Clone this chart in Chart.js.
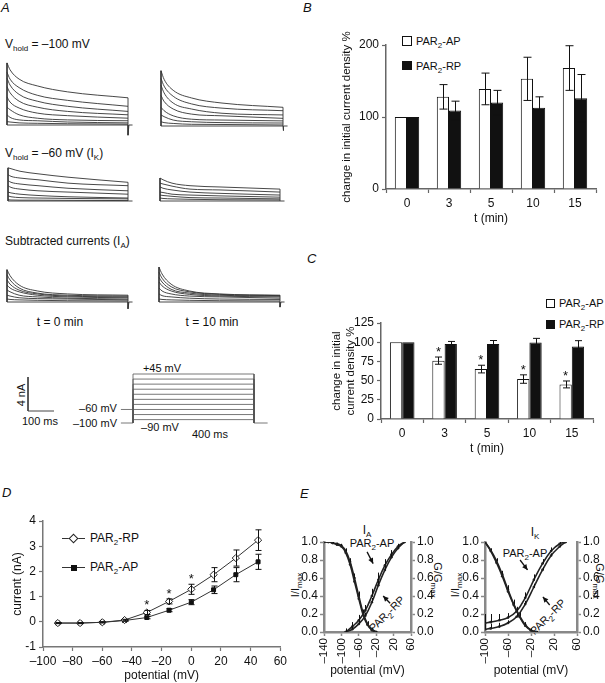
<!DOCTYPE html>
<html>
<head>
<meta charset="utf-8">
<script src="https://cdn.jsdelivr.net/npm/chart.js@4.4.1/dist/chart.umd.min.js"></script>
<style>
body { margin: 0; background: #fff; }
#fig { position: relative; width: 605px; height: 683px; overflow: hidden; font-family: 'Liberation Sans', Arial, sans-serif; color: #111; }
#fig canvas { position: absolute; }
.t { position: absolute; white-space: nowrap; font-size: 11px; line-height: 1; }
.c { transform: translate(-50%, -50%); }
.lt { font-style: italic; font-size: 13px; }
.big { font-size: 12px; }
sub { font-size: 8px; vertical-align: -3px; line-height: 0; }
.box { position: absolute; box-sizing: border-box; }
</style>
</head>
<body>
<div id="fig">
  <!-- panel letters -->
  <div class="t lt" style="left:1px;top:1px">A</div>
  <div class="t lt" style="left:303px;top:1px">B</div>
  <div class="t lt" style="left:307px;top:252px">C</div>
  <div class="t lt" style="left:2px;top:486px">D</div>
  <div class="t lt" style="left:300px;top:487px">E</div>

  <!-- panel A text -->
  <div class="t big" style="left:5px;top:38px">V<sub>hold</sub> = –100 mV</div>
  <div class="t big" style="left:5px;top:147px">V<sub>hold</sub> = –60 mV (I<sub>K</sub>)</div>
  <div class="t big" style="left:5px;top:235px">Subtracted currents (I<sub>A</sub>)</div>
  <div class="t big c" style="left:60px;top:322px">t = 0 min</div>
  <div class="t big c" style="left:212px;top:322px">t = 10 min</div>
  <div class="t c" style="left:21px;top:395px;transform:translate(-50%,-50%) rotate(-90deg)">4 nA</div>
  <div class="t c" style="left:40px;top:421px">100 ms</div>
  <div class="t c" style="left:162px;top:368px">+45 mV</div>
  <div class="t c" style="left:98px;top:408px">–60 mV</div>
  <div class="t c" style="left:95px;top:423px">–100 mV</div>
  <div class="t c" style="left:160px;top:427px">–90 mV</div>
  <div class="t c" style="left:210px;top:434px">400 ms</div>

  <!-- B legend -->
  <div class="box" style="left:402px;top:36px;width:10px;height:10px;border:1px solid #111;background:#fff"></div>
  <div class="t" style="left:416px;top:36px">PAR<sub>2</sub>-AP</div>
  <div class="box" style="left:402px;top:61px;width:10px;height:9px;background:#111"></div>
  <div class="t" style="left:416px;top:61px">PAR<sub>2</sub>-RP</div>

  <!-- C legend -->
  <div class="box" style="left:546px;top:299px;width:9px;height:9px;border:1px solid #111;background:#fff"></div>
  <div class="t" style="left:559px;top:298px">PAR<sub>2</sub>-AP</div>
  <div class="box" style="left:546px;top:320px;width:9px;height:9px;background:#111"></div>
  <div class="t" style="left:559px;top:319px">PAR<sub>2</sub>-RP</div>

  <!-- D legend -->
  <div class="box" style="left:62px;top:538px;width:23px;height:1px;background:#333"></div>
  <div class="box" style="left:70px;top:535px;width:7px;height:7px;border:1px solid #222;background:#fff;transform:rotate(45deg)"></div>
  <div class="t big" style="left:90px;top:532px">PAR<sub>2</sub>-RP</div>
  <div class="box" style="left:62px;top:567px;width:23px;height:1px;background:#333"></div>
  <div class="box" style="left:71px;top:565px;width:6px;height:6px;background:#111"></div>
  <div class="t big" style="left:90px;top:561px">PAR<sub>2</sub>-AP</div>

  <!-- E labels -->
  <div class="t big c" style="left:367px;top:530px">I<sub>A</sub></div>
  <div class="t big c" style="left:535px;top:532px">I<sub>K</sub></div>
  <div class="t c" style="left:372px;top:543px">PAR<sub>2</sub>-AP</div>
  <div class="t c" style="left:525px;top:553px">PAR<sub>2</sub>-AP</div>
  <div class="t c" style="left:387px;top:614px;transform:translate(-50%,-50%) rotate(-45deg)">PAR<sub>2</sub>-RP</div>
  <div class="t c" style="left:548px;top:617px;transform:translate(-50%,-50%) rotate(-45deg)">PAR<sub>2</sub>-RP</div>
  <div class="t c" style="left:295px;top:585px;transform:translate(-50%,-50%) rotate(-90deg)">I/I<sub>max</sub></div>
  <div class="t c" style="left:455px;top:585px;transform:translate(-50%,-50%) rotate(-90deg)">I/I<sub>max</sub></div>
  <div class="t c" style="left:437px;top:580px;transform:translate(-50%,-50%) rotate(90deg)">G/G<sub>max</sub></div>
  <div class="t c" style="left:599px;top:581px;transform:translate(-50%,-50%) rotate(90deg)">G/G<sub>max</sub></div>
</div>

<script>
// ---- Panel A: current traces (nA) sampled at these times (ms) into the 400 ms step
const traceTimes = [0, 10, 40, 100, 200, 400];
const stepMs = 400;

const tracesHold100T0 = [
    [7.3, 6.5, 5.4, 4.6, 3.9, 3.2],
    [6.2, 5.4, 4.4, 3.5, 2.9, 2.2],
    [5.5, 4.7, 3.6, 2.8, 2.2, 1.6],
    [4.5, 3.8, 2.8, 2.1, 1.6, 1.2],
    [3.3, 2.7, 2.0, 1.4, 1.1, 0.8],
    [2.1, 1.8, 1.2, 0.8, 0.6, 0.5],
    [1.2, 0.9, 0.6, 0.5, 0.35, 0.25],
    [0.4, 0.35, 0.25, 0.2, 0.15, 0.1]
];
const tracesHold100T10 = [
    [6.5, 5.5, 4.2, 3.3, 2.7, 2.2],
    [5.6, 4.7, 3.5, 2.6, 2.1, 1.8],
    [4.8, 3.9, 2.7, 2.0, 1.5, 1.3],
    [3.6, 2.9, 2.0, 1.4, 1.2, 0.9],
    [2.2, 1.8, 1.2, 0.8, 0.7, 0.6],
    [1.3, 1.1, 0.7, 0.5, 0.4, 0.35],
    [0.5, 0.4, 0.3, 0.2, 0.18, 0.12]
];
const tracesHold60T0 = [
    [3.9, 3.8, 3.5, 3.2, 2.8, 2.2],
    [3.1, 2.9, 2.7, 2.5, 2.1, 1.8],
    [2.4, 2.2, 2.0, 1.8, 1.5, 1.2],
    [1.8, 1.6, 1.4, 1.2, 1.05, 0.8],
    [1.05, 0.95, 0.8, 0.65, 0.5, 0.35],
    [0.6, 0.5, 0.4, 0.35, 0.3, 0.25],
    [0.15, 0.12, 0.1, 0.1, 0.08, 0.05]
];
const tracesHold60T10 = [
    [2.7, 2.5, 2.1, 1.8, 1.65, 1.4],
    [2.1, 2.0, 1.75, 1.4, 1.3, 1.05],
    [1.65, 1.5, 1.3, 1.05, 0.9, 0.7],
    [1.05, 1.0, 0.8, 0.7, 0.6, 0.45],
    [0.7, 0.65, 0.55, 0.4, 0.35, 0.25],
    [0.35, 0.3, 0.25, 0.2, 0.15, 0.12]
];
const tracesSubT0 = [
    [3.8, 3.1, 2.0, 1.3, 0.95, 0.8],
    [3.2, 2.6, 1.65, 1.05, 0.8, 0.7],
    [2.6, 2.1, 1.4, 0.95, 0.7, 0.6],
    [2.0, 1.65, 1.2, 0.8, 0.6, 0.5],
    [1.4, 1.2, 0.8, 0.6, 0.45, 0.35],
    [0.8, 0.7, 0.5, 0.4, 0.35, 0.25],
    [0.35, 0.3, 0.25, 0.2, 0.15, 0.12]
];
const tracesSubT10 = [
    [4.1, 3.3, 2.1, 1.3, 0.95, 0.8],
    [3.5, 2.8, 1.8, 1.2, 0.9, 0.75],
    [2.9, 2.35, 1.5, 1.05, 0.8, 0.7],
    [2.35, 1.9, 1.3, 0.9, 0.7, 0.6],
    [1.65, 1.3, 0.95, 0.7, 0.6, 0.45],
    [0.95, 0.75, 0.6, 0.45, 0.35, 0.3],
    [0.35, 0.3, 0.25, 0.2, 0.15, 0.12]
];
// tail current at the end of the step (nA)
const tailHold100 = [-1.2, -0.55];
const tailSub = [-0.8, -0.6];

// voltage protocol (mV)
const stepLevels = [-90, -75, -60, -45, -30, -15, 0, 15, 30, 45];
const holdLevel = -100;
const holdK = -60;
const scaleBarNa = 4;
const scaleBarMs = 100;

// ---- Panel B
const minutes = ['0', '3', '5', '10', '15'];
const bAP = [100, 128, 139, 153, 168];
const bAPerr = [0, 17, 22, 30, 31];
const bRP = [100, 109, 120, 113, 126];
const bRPerr = [0, 13, 17, 15, 33];

// ---- Panel C
const cAP = [100, 76, 65, 52, 45];
const cAPerr = [0, 4.7, 5, 5.5, 4.5];
const cRP = [100, 97.5, 97.5, 99.5, 94.5];
const cRPerr = [0, 3.5, 4.7, 5.5, 7.5];
const cStars = [1, 2, 3, 4];

// ---- Panel D
const dV = [-90, -75, -60, -45, -30, -15, 0, 15, 30, 45];
const dRP = [-0.05, -0.05, -0.02, 0.07, 0.37, 0.81, 1.29, 1.87, 2.53, 3.24];
const dRPerr = [0.02, 0.02, 0.02, 0.03, 0.08, 0.1, 0.2, 0.28, 0.32, 0.41];
const dAP = [-0.05, -0.05, -0.02, 0.05, 0.17, 0.46, 0.78, 1.27, 1.87, 2.38];
const dAPerr = [0.02, 0.02, 0.02, 0.03, 0.05, 0.06, 0.1, 0.15, 0.28, 0.3];
const dStars = [4, 5, 6];

// ---- Panel E (I_A)
const iaInactV = [-140, -130, -120, -110, -100, -90, -80, -70, -60, -50, -40, -30, -20];
const iaInactAP = [1.0, 1.0, 0.99, 0.98, 0.96, 0.9, 0.78, 0.6, 0.4, 0.21, 0.09, 0.03, 0.0];
const iaInactRP = [1.0, 1.0, 0.99, 0.97, 0.95, 0.88, 0.75, 0.56, 0.37, 0.19, 0.08, 0.02, 0.0];
const iaInactErr = [0, 0, 0.01, 0.01, 0.02, 0.03, 0.04, 0.05, 0.05, 0.04, 0.03, 0.02, 0.01];
const iaActV = [-90, -75, -60, -45, -30, -15, 0, 15, 30, 45];
const iaActAP = [0.0, 0.06, 0.13, 0.24, 0.4, 0.58, 0.74, 0.86, 0.95, 1.0];
const iaActRP = [0.0, 0.03, 0.09, 0.18, 0.33, 0.52, 0.69, 0.83, 0.93, 1.0];
const iaActErr = [0.04, 0.05, 0.06, 0.06, 0.08, 0.08, 0.07, 0.05, 0.03, 0];
const iaArrows = [[-41, 0.89, -27, 0.76], [12, 0.32, -4, 0.4]];

// ---- Panel E (I_K)
const ikInactV = [-100, -90, -80, -70, -60, -50, -40, -30, -20, -10];
const ikInactAP = [1.0, 0.91, 0.79, 0.64, 0.47, 0.31, 0.18, 0.08, 0.02, 0.0];
const ikInactRP = [1.0, 0.9, 0.77, 0.62, 0.45, 0.3, 0.17, 0.07, 0.02, 0.0];
const ikInactErr = [0, 0.02, 0.03, 0.04, 0.05, 0.05, 0.04, 0.03, 0.02, 0.01];
const ikActV = [-100, -90, -75, -60, -45, -30, -15, 0, 15, 30, 40];
const ikActAP = [0.1, 0.11, 0.13, 0.16, 0.23, 0.38, 0.58, 0.76, 0.9, 0.98, 1.0];
const ikActRP = [0.03, 0.04, 0.06, 0.1, 0.17, 0.31, 0.5, 0.69, 0.85, 0.95, 1.0];
const ikActErr = [0.1, 0.09, 0.07, 0.05, 0.05, 0.06, 0.06, 0.05, 0.04, 0.02, 0];
const ikArrows = [[-39, 0.8, -26, 0.69], [12.5, 0.3, 0.7, 0.39]];

// ---------------------------------------------------------------
Chart.defaults.font.family = "'Liberation Sans', Arial, sans-serif";
Chart.defaults.font.size = 11;
Chart.defaults.color = '#111';
Chart.defaults.plugins.legend.display = false;
Chart.defaults.plugins.tooltip.enabled = false;

const dash = v => v < 0 ? '\u2013' + Math.abs(v) : String(v);

// error bars (and significance stars) read from dataset.errors
const errorBars = {
    id: 'errorBars',
    afterDatasetsDraw(chart) {
        const ctx = chart.ctx;
        chart.data.datasets.forEach((ds, i) => {
            if (!ds.errors) return;
            const meta = chart.getDatasetMeta(i);
            const ys = chart.scales[meta.yAxisID];
            ctx.save();
            ctx.strokeStyle = '#111';
            ctx.lineWidth = 1;
            meta.data.forEach((el, j) => {
                const e = ds.errors[j];
                const raw = ds.data[j];
                const v = typeof raw === 'object' ? raw.y : raw;
                const top = ys.getPixelForValue(v + e);
                if (e) {
                    const bot = ds.errUp ? el.y : ys.getPixelForValue(v - e);
                    const c = ds.errCap || 0;
                    const x = Math.round(el.x) + 0.5;
                    ctx.beginPath();
                    ctx.moveTo(x, top); ctx.lineTo(x, bot);
                    if (c) {
                        ctx.moveTo(x - c, top); ctx.lineTo(x + c, top);
                        if (!ds.errUp) { ctx.moveTo(x - c, bot); ctx.lineTo(x + c, bot); }
                    }
                    ctx.stroke();
                }
                if (ds.stars && ds.stars.includes(j)) {
                    ctx.fillStyle = '#111';
                    ctx.font = "13px 'Liberation Sans', Arial";
                    ctx.textAlign = 'center';
                    ctx.textBaseline = 'alphabetic';
                    ctx.fillText('*', el.x, top - 1);
                }
            });
            ctx.restore();
        });
    }
};
Chart.register(errorBars);

function arrowPlugin(list) {
    return {
        id: 'arrows',
        afterDraw(chart) {
            const { ctx, scales: { x, y } } = chart;
            ctx.save();
            ctx.strokeStyle = '#111';
            ctx.fillStyle = '#111';
            ctx.lineWidth = 1.3;
            list.forEach(a => {
                const x1 = x.getPixelForValue(a[0]), y1 = y.getPixelForValue(a[1]);
                const x2 = x.getPixelForValue(a[2]), y2 = y.getPixelForValue(a[3]);
                const ang = Math.atan2(y2 - y1, x2 - x1);
                ctx.beginPath(); ctx.moveTo(x1, y1); ctx.lineTo(x2, y2); ctx.stroke();
                ctx.beginPath();
                ctx.moveTo(x2, y2);
                ctx.lineTo(x2 - 6 * Math.cos(ang - 0.45), y2 - 6 * Math.sin(ang - 0.45));
                ctx.lineTo(x2 - 6 * Math.cos(ang + 0.45), y2 - 6 * Math.sin(ang + 0.45));
                ctx.closePath(); ctx.fill();
            });
            ctx.restore();
        }
    };
}

// x tick labels standing upright (read bottom to top), taken from the scale's own ticks
const uprightTicks = {
    id: 'uprightTicks',
    afterDraw(chart) {
        const s = chart.scales.x, ctx = chart.ctx;
        ctx.save();
        ctx.fillStyle = '#111';
        ctx.font = "11.5px 'Liberation Sans', Arial";
        ctx.textAlign = 'right';
        ctx.textBaseline = 'middle';
        s.ticks.forEach(t => {
            ctx.save();
            ctx.translate(s.getPixelForValue(t.value), s.top + 6);
            ctx.rotate(-Math.PI / 2);
            ctx.fillText(dash(t.value), 0, 0);
            ctx.restore();
        });
        ctx.restore();
    }
};

function mkCanvas(left, top, w, h) {
    const c = document.createElement('canvas');
    c.width = w; c.height = h;
    c.style.left = left + 'px'; c.style.top = top + 'px';
    c.style.width = w + 'px'; c.style.height = h + 'px';
    document.getElementById('fig').appendChild(c);
    return c;
}

const base = { responsive: false, animation: false, devicePixelRatio: 1, events: [] };
const pts = (xs, ys) => xs.map((x, i) => ({ x: x, y: ys[i] }));

// hidden-axis chart where (x0, y0) is t = 0 / 0 nA, x400 the end of the step
function traceChart(box, x0, y0, x400, traces, tail) {
    const [left, top, w, h] = box;
    const k = (x400 - x0) / stepMs;
    const kA = 8.5;
    const datasets = traces.map(v => ({ data: pts(traceTimes, v), cubicInterpolationMode: 'monotone' }));
    const peak = Math.max(...traces.map(v => v[0]));
    const last = Math.max(...traces.map(v => v[v.length - 1]));
    datasets.push({ data: [{ x: 0, y: peak }, { x: 0, y: 0 }, { x: stepMs, y: 0 }, { x: stepMs, y: last }] });
    datasets.push({ data: [{ x: stepMs, y: 0 }, { x: stepMs, y: tail }, { x: stepMs + 3, y: 0 }, { x: stepMs + 15, y: 0 }] });
    new Chart(mkCanvas(left, top, w, h), {
        type: 'line',
        data: { datasets },
        options: {
            ...base,
            layout: { padding: 0 },
            elements: { point: { radius: 0 }, line: { borderWidth: 0.9, borderColor: '#333', tension: 0 } },
            datasets: { line: { clip: false } },
            scales: {
                x: { type: 'linear', display: false, min: (left - x0) / k, max: (left + w - x0) / k },
                y: { display: false, min: (y0 - top - h) / kA, max: (y0 - top) / kA }
            }
        }
    });
}

traceChart([2, 55, 140, 85], 7, 125, 128, tracesHold100T0, tailHold100[0]);
traceChart([155, 55, 140, 85], 161, 126, 283, tracesHold100T10, tailHold100[1]);
traceChart([2, 160, 140, 50], 8, 201, 128, tracesHold60T0, 0);
traceChart([155, 160, 140, 50], 160, 201, 280, tracesHold60T10, 0);
traceChart([2, 260, 140, 55], 7, 302, 128, tracesSubT0, tailSub[0]);
traceChart([155, 260, 140, 55], 159, 302, 280, tracesSubT10, tailSub[1]);

// voltage protocol
(function () {
    const left = 110, top = 365, w = 170, h = 65;
    const x0 = 133, k = 121 / stepMs;        // px per ms
    const yHold = 423, kV = 49 / 145;        // px per mV
    const datasets = stepLevels.map(L => ({
        data: [{ x: 0, y: holdLevel }, { x: 0, y: L }, { x: stepMs, y: L }, { x: stepMs, y: holdLevel }]
    }));
    datasets.push({ data: [{ x: -40, y: holdLevel }, { x: 0, y: holdLevel }] });
    datasets.push({ data: [{ x: stepMs, y: holdLevel }, { x: stepMs + 45, y: holdLevel }] });
    datasets.push({ data: [{ x: -40, y: holdK }, { x: 0, y: holdK }] });
    new Chart(mkCanvas(left, top, w, h), {
        type: 'line',
        data: { datasets },
        options: {
            ...base,
            layout: { padding: 0 },
            elements: { point: { radius: 0 }, line: { borderWidth: 0.8, borderColor: '#555', tension: 0 } },
            datasets: { line: { clip: false } },
            scales: {
                x: { type: 'linear', display: false, min: (left - x0) / k, max: (left + w - x0) / k },
                y: { display: false, min: holdLevel - (top + h - yHold) / kV, max: holdLevel + (yHold - top) / kV }
            }
        }
    });
})();

// scale bar
(function () {
    const left = 20, top = 370, w = 50, h = 45;
    const x0 = 28, y0 = 411, kT = 26 / scaleBarMs, kA = 34 / scaleBarNa;
    new Chart(mkCanvas(left, top, w, h), {
        type: 'line',
        data: { datasets: [{ data: [{ x: 0, y: scaleBarNa }, { x: 0, y: 0 }, { x: scaleBarMs, y: 0 }] }] },
        options: {
            ...base,
            layout: { padding: 0 },
            elements: { point: { radius: 0 }, line: { borderWidth: 1, borderColor: '#444', tension: 0 } },
            scales: {
                x: { type: 'linear', display: false, min: (left - x0) / kT, max: (left + w - x0) / kT },
                y: { display: false, min: (y0 - top - h) / kA, max: (y0 - top) / kA }
            }
        }
    });
})();

// ---- bar charts B and C
const axisGrey = '#666';
function barAxes(yMax, yStep, yTitle, yW, xH, yTitlePad, xTitlePad) {
    return {
        x: {
            grid: { drawOnChartArea: false, color: axisGrey, tickLength: 4, tickWidth: 1.2 },
            border: { color: axisGrey, width: 1.5 },
            ticks: { padding: 3, font: { size: 12 } },
            title: { display: true, text: 't (min)', font: { size: 12 }, padding: { top: 0, bottom: xTitlePad } },
            afterFit: s => { s.height = xH; }
        },
        y: {
            min: 0, max: yMax,
            grid: { drawOnChartArea: false, color: axisGrey, tickLength: 4, tickWidth: 1.2 },
            border: { color: axisGrey, width: 1.5 },
            ticks: { stepSize: yStep, padding: 3, font: { size: 12 } },
            title: { display: true, text: yTitle, font: { size: 11.5 }, padding: { top: yTitlePad, bottom: 0 } },
            afterFit: s => { s.width = yW; }
        }
    };
}

new Chart(mkCanvas(300, 0, 305, 240), {
    type: 'bar',
    data: {
        labels: minutes,
        datasets: [
            { data: bAP, errors: bAPerr, errCap: 4, backgroundColor: '#fff', borderColor: '#111', borderWidth: 1 },
            { data: bRP, errors: bRPerr, errCap: 4, backgroundColor: '#111', borderColor: '#111', borderWidth: 1 }
        ]
    },
    options: {
        ...base,
        layout: { padding: { top: 45, right: 9, left: 0, bottom: 0 } },
        datasets: { bar: { categoryPercentage: 0.58, barPercentage: 1 } },
        scales: barAxes(200, 100, 'change in initial current density %', 86, 51, 40, 14)
    }
});

new Chart(mkCanvas(300, 240, 305, 220), {
    type: 'bar',
    data: {
        labels: minutes,
        datasets: [
            { data: cAP, errors: cAPerr, errCap: 3.5, stars: cStars, backgroundColor: '#fff', borderColor: '#111', borderWidth: 1 },
            { data: cRP, errors: cRPerr, errCap: 3.5, backgroundColor: '#111', borderColor: '#111', borderWidth: 1 }
        ]
    },
    options: {
        ...base,
        layout: { padding: { top: 83, right: 12, left: 0, bottom: 0 } },
        datasets: { bar: { categoryPercentage: 0.58, barPercentage: 1 } },
        scales: barAxes(125, 25, ['change in initial', 'current density %'], 81, 41, 30, 4)
    }
});

// ---- D: I-V curves
new Chart(mkCanvas(0, 505, 290, 178), {
    type: 'line',
    data: {
        datasets: [
            { data: pts(dV, dRP), errors: dRPerr, errCap: 3, stars: dStars, pointStyle: 'rectRot', pointRadius: 3.6,
              pointBackgroundColor: '#fff', pointBorderColor: '#222', pointBorderWidth: 1 },
            { data: pts(dV, dAP), errors: dAPerr, errCap: 3, pointStyle: 'rect', pointRadius: 2.8,
              pointBackgroundColor: '#111', pointBorderColor: '#111', pointBorderWidth: 1 }
        ]
    },
    options: {
        ...base,
        layout: { padding: { top: 16, right: 7, left: 0, bottom: 0 } },
        elements: { line: { borderColor: '#333', borderWidth: 1, tension: 0 } },
        scales: {
            x: {
                type: 'linear', min: -100, max: 60,
                grid: { drawOnChartArea: false, color: '#777', tickLength: 4, tickWidth: 1.2 },
                border: { color: '#777', width: 1.5 },
                ticks: { stepSize: 20, padding: 3, font: { size: 12 }, callback: dash,
                         minRotation: 0, maxRotation: 0, autoSkip: false },
                title: { display: true, text: 'potential (mV)', font: { size: 12 }, padding: { top: 0, bottom: 0 } },
                afterFit: s => { s.height = 36; }
            },
            y: {
                min: -1, max: 4,
                grid: { drawOnChartArea: false, color: '#777', tickLength: 4, tickWidth: 1.2 },
                border: { color: '#777', width: 1.5 },
                ticks: { stepSize: 1, padding: 3, font: { size: 12 } },
                title: { display: true, text: 'current (nA)', font: { size: 12 }, padding: { top: 10, bottom: 0 } },
                afterFit: s => { s.width = 43; }
            }
        }
    }
});

// ---- E: inactivation / activation curves
function eChart(box, yW, y2W, xMin, xMax, inV, inAP, inRP, inErr, acV, acAP, acRP, acErr, arrows) {
    const [left, top, w, h] = box;
    const eAxis = '#888';
    const yAxis = pos => ({
        position: pos, min: 0, max: 1,
        grid: { drawOnChartArea: false, color: eAxis, tickLength: 4, tickWidth: 1.5 },
        border: { color: eAxis, width: 2.5 },
        ticks: { stepSize: 0.2, padding: 2, font: { size: 12 }, callback: v => v.toFixed(1) },
        afterFit: s => { s.width = pos === 'left' ? yW : y2W; }
    });
    const line = { borderColor: '#222', borderWidth: 1.6, tension: 0.4, pointRadius: 1.3,
                   pointBackgroundColor: '#222', pointBorderWidth: 0, errUp: true };
    new Chart(mkCanvas(left, top, w, h), {
        type: 'line',
        data: {
            datasets: [
                { ...line, data: pts(inV, inAP), errors: inErr, yAxisID: 'y' },
                { ...line, data: pts(inV, inRP), yAxisID: 'y' },
                { ...line, data: pts(acV, acAP), errors: acErr, yAxisID: 'y2' },
                { ...line, data: pts(acV, acRP), errors: acErr.map(e => e * 0.6), yAxisID: 'y2' }
            ]
        },
        options: {
            ...base,
            layout: { padding: { top: 22, right: 0, left: 0, bottom: 0 } },
            scales: {
                x: {
                    type: 'linear', min: xMin, max: xMax,
                    grid: { drawOnChartArea: false, color: eAxis, tickLength: 4, tickWidth: 1.5 },
                    border: { color: eAxis, width: 2.5 },
                    ticks: { stepSize: 40, display: false },
                    title: { display: true, text: 'potential (mV)', font: { size: 12 }, padding: { top: 0, bottom: 5 } },
                    afterFit: s => { s.height = 51; }
                },
                y: yAxis('left'),
                y2: yAxis('right')
            }
        },
        plugins: [arrowPlugin(arrows), uprightTicks]
    });
}

eChart([290, 520, 160, 163], 34, 39, -140, 60,
    iaInactV, iaInactAP, iaInactRP, iaInactErr, iaActV, iaActAP, iaActRP, iaActErr, iaArrows);
eChart([450, 520, 155, 163], 35, 28, -100, 60,
    ikInactV, ikInactAP, ikInactRP, ikInactErr, ikActV, ikActAP, ikActRP, ikActErr, ikArrows);
</script>
</body>
</html>
